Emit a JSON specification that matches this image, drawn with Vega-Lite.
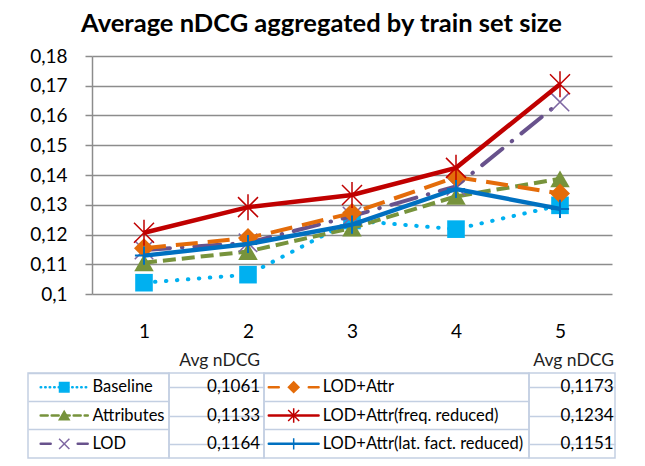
{
  "$schema": "https://vega.github.io/schema/vega-lite/v6.json",
  "padding": {"left": 27, "top": 11, "right": 5, "bottom": 5},
  "background": "white",
  "title": {"text": "Average nDCG aggregated by train set size", "font": "Lato", "fontSize": 25.5, "fontWeight": "bold", "anchor": "middle", "color": "#000000", "baseline": "alphabetic", "offset": -10},
  "config": {
    "locale": {"number": {"decimal": ",", "thousands": ".", "grouping": [3], "currency": ["", ""]}},
    "view": {"stroke": null},
    "font": "Lato"
  },
  "datasets": {
    "curves": [
      {"size": 1, "series": "Baseline", "ndcg": 0.1038},
      {"size": 2, "series": "Baseline", "ndcg": 0.1065},
      {"size": 3, "series": "Baseline", "ndcg": 0.1247},
      {"size": 4, "series": "Baseline", "ndcg": 0.1218},
      {"size": 5, "series": "Baseline", "ndcg": 0.1298},
      {"size": 1, "series": "Attributes", "ndcg": 0.1105},
      {"size": 2, "series": "Attributes", "ndcg": 0.1143},
      {"size": 3, "series": "Attributes", "ndcg": 0.1222},
      {"size": 4, "series": "Attributes", "ndcg": 0.1328},
      {"size": 5, "series": "Attributes", "ndcg": 0.1387},
      {"size": 1, "series": "LOD", "ndcg": 0.1148},
      {"size": 2, "series": "LOD", "ndcg": 0.1172},
      {"size": 3, "series": "LOD", "ndcg": 0.1262},
      {"size": 4, "series": "LOD", "ndcg": 0.1362},
      {"size": 5, "series": "LOD", "ndcg": 0.1645},
      {"size": 1, "series": "LOD+Attr", "ndcg": 0.1154},
      {"size": 2, "series": "LOD+Attr", "ndcg": 0.1188},
      {"size": 3, "series": "LOD+Attr", "ndcg": 0.1272},
      {"size": 4, "series": "LOD+Attr", "ndcg": 0.1393},
      {"size": 5, "series": "LOD+Attr", "ndcg": 0.1338},
      {"size": 1, "series": "LOD+Attr(freq. reduced)", "ndcg": 0.1206},
      {"size": 2, "series": "LOD+Attr(freq. reduced)", "ndcg": 0.1292},
      {"size": 3, "series": "LOD+Attr(freq. reduced)", "ndcg": 0.1333},
      {"size": 4, "series": "LOD+Attr(freq. reduced)", "ndcg": 0.1424},
      {"size": 5, "series": "LOD+Attr(freq. reduced)", "ndcg": 0.1705},
      {"size": 1, "series": "LOD+Attr(lat. fact. reduced)", "ndcg": 0.1129},
      {"size": 2, "series": "LOD+Attr(lat. fact. reduced)", "ndcg": 0.1168},
      {"size": 3, "series": "LOD+Attr(lat. fact. reduced)", "ndcg": 0.1233},
      {"size": 4, "series": "LOD+Attr(lat. fact. reduced)", "ndcg": 0.1353},
      {"size": 5, "series": "LOD+Attr(lat. fact. reduced)", "ndcg": 0.1286}
    ],
    "table": [
      {"series": "Baseline", "col": 1, "row": 1, "avg": 0.1061},
      {"series": "Attributes", "col": 1, "row": 2, "avg": 0.1133},
      {"series": "LOD", "col": 1, "row": 3, "avg": 0.1164},
      {"series": "LOD+Attr", "col": 2, "row": 1, "avg": 0.1173},
      {"series": "LOD+Attr(freq. reduced)", "col": 2, "row": 2, "avg": 0.1234},
      {"series": "LOD+Attr(lat. fact. reduced)", "col": 2, "row": 3, "avg": 0.1151}
    ]
  },
  "spacing": 9,
  "vconcat": [
    {
      "spacing": 0,
      "hconcat": [
        {
          "width": 1,
          "height": 1,
          "data": {"values": [{"blank": ""}]},
          "mark": {"type": "text", "opacity": 0},
          "encoding": {"text": {"field": "blank", "type": "nominal"}}
        },
        {
          "width": 520,
          "height": 238,
          "data": {"name": "curves"},
          "encoding": {
            "x": {"field": "size", "type": "ordinal", "scale": {"type": "point", "padding": 0.5},
              "axis": {"title": null, "labelAngle": 0, "labelFont": "Lato", "labelFontSize": 19, "labelColor": "#000000", "ticks": false, "domain": false, "labelPadding": 28, "grid": false}},
            "y": {"field": "ndcg", "type": "quantitative", "scale": {"domain": [0.1, 0.18], "nice": false, "zero": false},
              "axis": {"title": null, "values": [0.1, 0.11, 0.12, 0.13, 0.14, 0.15, 0.16, 0.17, 0.18], "format": ".2~f",
                "labelFont": "Lato", "labelFontSize": 19, "labelColor": "#000000", "tickSize": 7, "tickColor": "#8c8c8c", "tickWidth": 1.5,
                "domainColor": "#8c8c8c", "domainWidth": 1.5, "grid": true, "gridColor": "#8c8c8c", "gridWidth": 1.5, "labelPadding": 18}}
          },
          "layer": [
            {"transform": [{"filter": "datum.series === 'Baseline'"}],
             "mark": {"type": "line", "color": "#00b0f0", "strokeWidth": 4, "strokeDash": [0.5, 10.5], "strokeCap": "round",
               "point": {"shape": "square", "size": 310, "filled": true, "color": "#00b0f0", "opacity": 1}}},
            {"transform": [{"filter": "datum.series === 'Attributes'"}],
             "mark": {"type": "line", "color": "#77933c", "strokeWidth": 4, "strokeDash": [13, 6],
               "point": {"shape": "triangle-up", "size": 380, "filled": true, "color": "#77933c", "opacity": 1}}},
            {"transform": [{"filter": "datum.series === 'LOD'"}],
             "mark": {"type": "line", "color": "#68528c", "strokeWidth": 4, "strokeDash": [26, 12, 0.5, 12], "strokeCap": "round",
               "point": {"shape": "M-1,-1L1,1M-1,1L1,-1", "size": 340, "filled": false, "color": "#7e67a2", "strokeWidth": 1.5, "opacity": 1}}},
            {"transform": [{"filter": "datum.series === 'LOD+Attr'"}],
             "mark": {"type": "line", "color": "#e46c0a", "strokeWidth": 4, "strokeDash": [22, 10],
               "point": {"shape": "diamond", "size": 400, "filled": true, "color": "#e46c0a", "opacity": 1}}},
            {"transform": [{"filter": "datum.series === 'LOD+Attr(freq. reduced)'"}],
             "mark": {"type": "line", "color": "#c00000", "strokeWidth": 4.5,
               "point": {"shape": "M-1,-1L1,1M-1,1L1,-1M0,-1.3L0,1.3", "size": 400, "filled": false, "color": "#c00000", "strokeWidth": 1.5, "opacity": 1}}},
            {"transform": [{"filter": "datum.series === 'LOD+Attr(lat. fact. reduced)'"}],
             "mark": {"type": "line", "color": "#0070c0", "strokeWidth": 4.5,
               "point": {"shape": "M0,-1L0,1M-1,0L1,0", "size": 330, "filled": false, "color": "#0070c0", "strokeWidth": 2, "opacity": 1}}}
          ]
        }
      ]
    },
    {
      "hconcat": [
        {
          "width": 141, "height": 85,
          "data": {"name": "table"},
          "transform": [{"filter": "datum.col === 1"}],
          "view": {"stroke": "#c3cfe2", "strokeWidth": 1.5},
          "encoding": {
            "y": {"field": "row", "type": "ordinal", "scale": {"domain": [1, 2, 3], "paddingInner": 0, "paddingOuter": 0},
              "axis": {"labels": false, "ticks": false, "domain": false, "title": null, "grid": true, "gridColor": "#c3cfe2", "gridWidth": 1.5, "bandPosition": 0}}
          },
          "layer": [
            {"mark": {"type": "rule", "strokeWidth": 2.5, "strokeCap": "round"},
             "encoding": {
               "x": {"datum": 0.09, "type": "quantitative", "scale": {"domain": [0, 1]}, "axis": null},
               "x2": {"datum": 0.424},
               "color": {"field": "series", "type": "nominal", "legend": null,
                 "scale": {"domain": ["Baseline", "Attributes", "LOD", "LOD+Attr", "LOD+Attr(freq. reduced)", "LOD+Attr(lat. fact. reduced)"],
                   "range": ["#00b0f0", "#77933c", "#68528c", "#e46c0a", "#c00000", "#0070c0"]}},
               "strokeDash": {"field": "series", "type": "nominal", "legend": null,
                 "scale": {"domain": ["Baseline", "Attributes", "LOD", "LOD+Attr", "LOD+Attr(freq. reduced)", "LOD+Attr(lat. fact. reduced)"],
                   "range": [[0.5, 4], [7, 4], [10, 27], [10, 30], [1, 0], [1, 0]]}}
             }},
            {"mark": {"type": "point", "filled": true, "strokeWidth": 1.5, "opacity": 1},
             "encoding": {
               "x": {"datum": 0.257, "type": "quantitative"},
               "shape": {"field": "series", "type": "nominal", "legend": null,
                 "scale": {"domain": ["Baseline", "Attributes", "LOD", "LOD+Attr", "LOD+Attr(freq. reduced)", "LOD+Attr(lat. fact. reduced)"],
                   "range": ["square", "triangle-up", "M-1,-1L1,1M-1,1L1,-1", "diamond", "M-1,-1L1,1M-1,1L1,-1M0,-1.3L0,1.3", "M0,-1L0,1M-1,0L1,0"]}},
               "size": {"field": "series", "type": "ordinal", "legend": null,
                 "scale": {"domain": ["Baseline", "Attributes", "LOD", "LOD+Attr", "LOD+Attr(freq. reduced)", "LOD+Attr(lat. fact. reduced)"],
                   "range": [90, 130, 110, 130, 240, 150]}},
               "fill": {"field": "series", "type": "nominal", "legend": null,
                 "scale": {"domain": ["Baseline", "Attributes", "LOD", "LOD+Attr", "LOD+Attr(freq. reduced)", "LOD+Attr(lat. fact. reduced)"],
                   "range": ["#00b0f0", "#77933c", "#7e67a2", "#e46c0a", "#c00000", "#0070c0"]}},
               "stroke": {"field": "series", "type": "nominal", "legend": null,
                 "scale": {"domain": ["Baseline", "Attributes", "LOD", "LOD+Attr", "LOD+Attr(freq. reduced)", "LOD+Attr(lat. fact. reduced)"],
                   "range": ["#00b0f0", "#77933c", "#7e67a2", "#e46c0a", "#c00000", "#0070c0"]}}
             }},
            {"mark": {"type": "text", "align": "left", "baseline": "middle", "font": "Lato", "fontSize": 16.5, "color": "#000000"},
             "encoding": {
               "x": {"datum": 0.457, "type": "quantitative"},
               "text": {"field": "series", "type": "nominal"}
             }}
          ]
        },
        {
          "width": 95, "height": 85,
          "title": {"text": "Avg nDCG", "anchor": "end", "font": "Lato", "fontSize": 17.5, "fontWeight": "normal", "color": "#1f1f1f", "baseline": "alphabetic", "offset": -10, "dx": -4},
          "data": {"name": "table"},
          "transform": [{"filter": "datum.col === 1"}],
          "view": {"stroke": "#c3cfe2", "strokeWidth": 1.5},
          "mark": {"type": "text", "align": "right", "baseline": "middle", "font": "Lato", "fontSize": 17, "color": "#000000"},
          "encoding": {
            "y": {"field": "row", "type": "ordinal", "scale": {"domain": [1, 2, 3], "paddingInner": 0, "paddingOuter": 0},
              "axis": {"labels": false, "ticks": false, "domain": false, "title": null, "grid": true, "gridColor": "#c3cfe2", "gridWidth": 1.5, "bandPosition": 0}},
            "x": {"datum": 0.96, "type": "quantitative", "scale": {"domain": [0, 1]}, "axis": null},
            "text": {"field": "avg", "type": "quantitative", "format": ".4f"}
          }
        },
        {
          "width": 265, "height": 85,
          "data": {"name": "table"},
          "transform": [{"filter": "datum.col === 2"}],
          "view": {"stroke": "#c3cfe2", "strokeWidth": 1.5},
          "encoding": {
            "y": {"field": "row", "type": "ordinal", "scale": {"domain": [1, 2, 3], "paddingInner": 0, "paddingOuter": 0},
              "axis": {"labels": false, "ticks": false, "domain": false, "title": null, "grid": true, "gridColor": "#c3cfe2", "gridWidth": 1.5, "bandPosition": 0}}
          },
          "layer": [
            {"mark": {"type": "rule", "strokeWidth": 2.5, "strokeCap": "round"},
             "encoding": {
               "x": {"datum": 0.018, "type": "quantitative", "scale": {"domain": [0, 1]}, "axis": null},
               "x2": {"datum": 0.206},
               "color": {"field": "series", "type": "nominal", "legend": null},
               "strokeDash": {"field": "series", "type": "nominal", "legend": null}
             }},
            {"mark": {"type": "point", "filled": true, "strokeWidth": 1.5, "opacity": 1},
             "encoding": {
               "x": {"datum": 0.112, "type": "quantitative"},
               "shape": {"field": "series", "type": "nominal", "legend": null},
               "size": {"field": "series", "type": "ordinal", "legend": null},
               "fill": {"field": "series", "type": "nominal", "legend": null},
               "stroke": {"field": "series", "type": "nominal", "legend": null}
             }},
            {"mark": {"type": "text", "align": "left", "baseline": "middle", "font": "Lato", "fontSize": 16.5, "color": "#000000"},
             "encoding": {
               "x": {"datum": 0.2215, "type": "quantitative"},
               "text": {"field": "series", "type": "nominal"}
             }}
          ]
        },
        {
          "width": 86, "height": 85,
          "title": {"text": "Avg nDCG", "anchor": "end", "font": "Lato", "fontSize": 17.5, "fontWeight": "normal", "color": "#1f1f1f", "baseline": "alphabetic", "offset": -10, "dx": -1},
          "data": {"name": "table"},
          "transform": [{"filter": "datum.col === 2"}],
          "view": {"stroke": "#c3cfe2", "strokeWidth": 1.5},
          "mark": {"type": "text", "align": "right", "baseline": "middle", "font": "Lato", "fontSize": 17, "color": "#000000"},
          "encoding": {
            "y": {"field": "row", "type": "ordinal", "scale": {"domain": [1, 2, 3], "paddingInner": 0, "paddingOuter": 0},
              "axis": {"labels": false, "ticks": false, "domain": false, "title": null, "grid": true, "gridColor": "#c3cfe2", "gridWidth": 1.5, "bandPosition": 0}},
            "x": {"datum": 0.985, "type": "quantitative", "scale": {"domain": [0, 1]}, "axis": null},
            "text": {"field": "avg", "type": "quantitative", "format": ".4f"}
          }
        }
      ],
      "spacing": 0,
      "bounds": "flush"
    }
  ]
}
